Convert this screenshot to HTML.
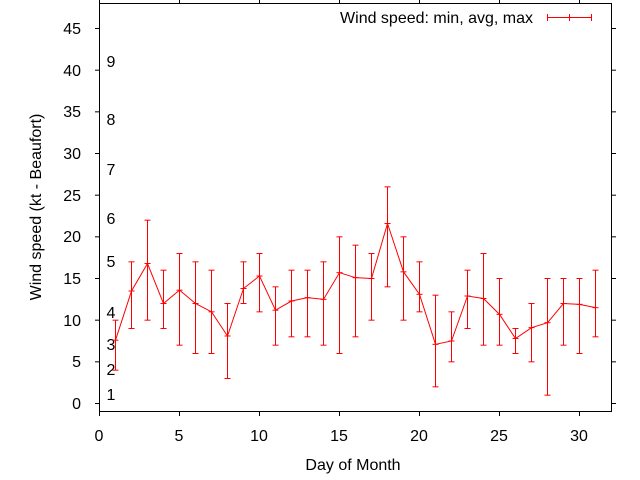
<!DOCTYPE html>
<html><head><meta charset="utf-8"><style>
html,body{margin:0;padding:0;background:#fff;}
svg{display:block;font-family:"Liberation Sans",sans-serif;font-size:16px;}
</style></head><body>
<svg id="s" width="640" height="480" viewBox="0 0 640 480" xmlns="http://www.w3.org/2000/svg">
<rect width="640" height="480" fill="#fff"/>
<g id="ax" stroke="#000" stroke-width="1" fill="none"></g>
<g fill="#000" text-anchor="end">
<text x="81" y="409">0</text><text x="81" y="367">5</text><text x="81" y="326">10</text><text x="81" y="284">15</text>
<text x="81" y="242">20</text><text x="81" y="201">25</text><text x="81" y="159">30</text><text x="81" y="117">35</text>
<text x="81" y="76">40</text><text x="81" y="34">45</text>
</g>
<g fill="#000" text-anchor="middle">
<text x="99" y="441">0</text><text x="179" y="441">5</text><text x="259" y="441">10</text><text x="339" y="441">15</text>
<text x="419" y="441">20</text><text x="499" y="441">25</text><text x="579" y="441">30</text>
<text x="353" y="470">Day of Month</text>
<text transform="translate(41,207) rotate(-90)">Wind speed (kt - Beaufort)</text>
</g>
<g fill="#000" text-anchor="middle">
<text x="111" y="400">1</text><text x="111" y="375">2</text><text x="111" y="350">3</text><text x="111" y="318">4</text>
<text x="111" y="267">5</text><text x="111" y="224">6</text><text x="111" y="175">7</text><text x="111" y="125">8</text>
<text x="111" y="67">9</text>
</g>
<text x="533" y="23" text-anchor="end" fill="#000">Wind speed: min, avg, max</text>
<g stroke="#f00" stroke-width="1">
<line x1="547" y1="17.5" x2="592" y2="17.5"/><line x1="547.5" y1="14" x2="547.5" y2="21"/>
<line x1="569.5" y1="14" x2="569.5" y2="21"/><line x1="591.5" y1="14" x2="591.5" y2="21"/>
</g>
<g id="d" stroke="#f00" stroke-width="1" fill="none"></g>
</svg>
<script>
var ns="http://www.w3.org/2000/svg";
function L(g,a,b,c,d){var l=document.createElementNS(ns,"line");l.setAttribute("x1",a);l.setAttribute("y1",b);l.setAttribute("x2",c);l.setAttribute("y2",d);g.appendChild(l);}
var ax=document.getElementById("ax");
var r=document.createElementNS(ns,"rect");r.setAttribute("x",99.5);r.setAttribute("y",3.5);r.setAttribute("width",512);r.setAttribute("height",408);ax.appendChild(r);
function X(v){return 99.5+v*16;} function Y(v){return 403.5-v*8.333;}
for(var v=0;v<=45;v+=5){L(ax,95,Y(v),99.5,Y(v));L(ax,611.5,Y(v),616,Y(v));}
for(var v=0;v<=30;v+=5){L(ax,X(v),411.5,X(v),416);L(ax,X(v),3.5,X(v),0);}
var D=[[7.6,4,10],[13.5,9,17],[16.8,10,22],[12,9,16],[13.6,7,18],[12,6,17],[11,6,16],[8.1,3,12],[13.8,12,17],[15.3,11,18],[11.2,7,14],[12.3,8,16],[12.7,8,16],[12.5,7,17],[15.7,6,20],[15.1,8,19],[15,10,18],[21.6,14,26],[15.8,10,20],[13.1,11,17],[7.1,2,13],[7.5,5,11],[12.9,9,16],[12.6,7,18],[10.7,7,15],[7.8,6,9],[9.1,5,12],[9.7,1,15],[12,7,15],[11.9,6,15],[11.5,8,16]];
var g=document.getElementById("d"),pts=[];
D.forEach(function(e,i){var x=X(i+1);L(g,x,Y(e[1]),x,Y(e[2]));L(g,x-3,Y(e[1]),x+3,Y(e[1]));L(g,x-3,Y(e[2]),x+3,Y(e[2]));L(g,x-3,Y(e[0]),x+3,Y(e[0]));pts.push(x+","+Y(e[0]));});
var p=document.createElementNS(ns,"polyline");p.setAttribute("points",pts.join(" "));g.appendChild(p);
</script>
</body></html>
